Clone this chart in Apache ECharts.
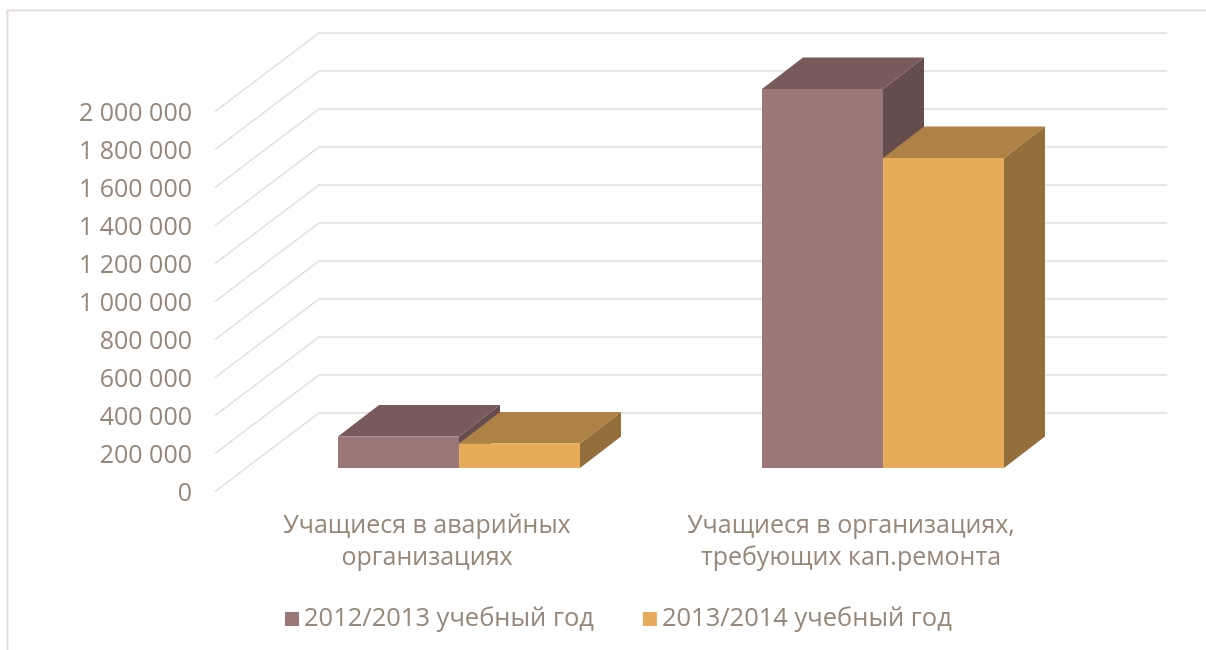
<!DOCTYPE html>
<html>
<head>
<meta charset="utf-8">
<style>
html, body { margin: 0; padding: 0; background: #fff; }
#main { width: 1206px; height: 650px; }
</style>
<script src="https://cdn.jsdelivr.net/npm/echarts@6/dist/echarts.min.js"></script>
</head>
<body>
<div id="main"></div>
<script>
const categories = ["Учащиеся в аварийных\nорганизациях", "Учащиеся в организациях,\nтребующих кап.ремонта"];
const seriesNames = ["2012/2013 учебный год", "2013/2014 учебный год"];
const values2012 = [166000, 1995000];
const values2013 = [129000, 1632000];
const yTicks = [0, 200000, 400000, 600000, 800000, 1000000, 1200000, 1400000, 1600000, 1800000, 2000000];

const textColor = "#968778";
const gridColor = "#e6dcdc";
const fontName = "'Open Sans', sans-serif";

// fake 3d: wall depth, then the bars stand partway into it
const wallDx = 104, wallDy = 78.5;
const barShiftX = 32, barShiftY = 23.5;
const barDx = 41, barDy = 31.5;
const barShare = 121 / 424;

function renderWall(params, api) {
    let p = api.coord([0, api.value(0)]);
    let band = api.size([1, 0])[0];
    let x0 = p[0] - band / 2;
    return {
        type: "polyline",
        shape: {
            points: [
                [x0, p[1]],
                [x0 + wallDx, p[1] - wallDy],
                [x0 + band * categories.length + wallDx, p[1] - wallDy],
            ],
        },
        style: { stroke: gridColor, lineWidth: 1.5, fill: null },
        silent: true,
    };
}

function makeBar(seriesPos, colors) {
    return function (params, api) {
        let cat = api.value(0);
        let base = api.coord([cat, 0]);
        let top = api.coord([cat, api.value(1)]);
        let w = api.size([1, 0])[0] * barShare;
        let x0 = base[0] + barShiftX + (seriesPos - 1) * w;
        let x1 = x0 + w;
        let yb = base[1] - barShiftY;
        let yt = top[1] - barShiftY;
        return {
            type: "group",
            children: [
                {
                    type: "polygon",
                    shape: { points: [[x1, yt], [x1 + barDx, yt - barDy], [x1 + barDx, yb - barDy], [x1, yb]] },
                    style: { fill: colors.side },
                },
                {
                    type: "polygon",
                    shape: { points: [[x0, yt], [x0 + barDx, yt - barDy], [x1 + barDx, yt - barDy], [x1, yt]] },
                    style: { fill: colors.top },
                },
                {
                    type: "rect",
                    shape: { x: x0, y: yt, width: w, height: yb - yt },
                    style: { fill: colors.front },
                },
            ],
        };
    };
}

const maroon = { front: "#9b7777", top: "#785a5a", side: "#654d4d" };
const orange = { front: "#e7ab59", top: "#ae8144", side: "#946f3b" };

let myChart = echarts.init(document.getElementById("main"), null, { renderer: "canvas" });

let option = {
    animation: false,
    backgroundColor: "#fff",
    textStyle: { fontFamily: fontName },
    grid: { left: 215, top: 111.5, width: 848, height: 380 },
    legend: {
        data: seriesNames,
        left: 280,
        top: 601,
        itemWidth: 14,
        itemHeight: 14,
        itemGap: 49,
        icon: "rect",
        textStyle: { color: textColor, fontSize: 25.5, fontFamily: fontName },
    },
    graphic: [
        {
            type: "polyline",
            silent: true,
            shape: { points: [[7.5, 650], [7.5, 10.5], [1206, 10.5]] },
            style: { stroke: gridColor, lineWidth: 2, fill: null },
        },
    ],
    xAxis: {
        type: "category",
        data: categories,
        axisLine: { show: false },
        axisTick: { show: false },
        splitLine: { show: false },
        axisLabel: { color: textColor, fontSize: 25, lineHeight: 32, margin: 18, interval: 0, fontFamily: fontName },
    },
    yAxis: {
        type: "value",
        min: 0,
        max: 2000000,
        interval: 200000,
        axisLine: { show: false },
        axisTick: { show: false },
        splitLine: { show: false },
        axisLabel: {
            color: textColor,
            fontSize: 25,
            margin: 23,
            verticalAlign: "top",
            lineHeight: 4,
            fontFamily: fontName,
            formatter: (v) => String(v).replace(/\B(?=(\d{3})+$)/g, " "),
        },
    },
    series: [
        {
            name: "wall",
            type: "custom",
            renderItem: renderWall,
            data: yTicks.map((t) => [t]),
            encode: { y: 0 },
            z: 1,
            silent: true,
        },
        {
            name: seriesNames[0],
            type: "custom",
            renderItem: makeBar(0, maroon),
            data: values2012.map((v, i) => [i, v]),
            encode: { x: 0, y: 1 },
            itemStyle: { color: maroon.front },
            z: 2,
        },
        {
            name: seriesNames[1],
            type: "custom",
            renderItem: makeBar(1, orange),
            data: values2013.map((v, i) => [i, v]),
            encode: { x: 0, y: 1 },
            itemStyle: { color: orange.front },
            z: 3,
        },
    ],
};

myChart.setOption(option);
window.addEventListener("resize", myChart.resize);
</script>
</body>
</html>
